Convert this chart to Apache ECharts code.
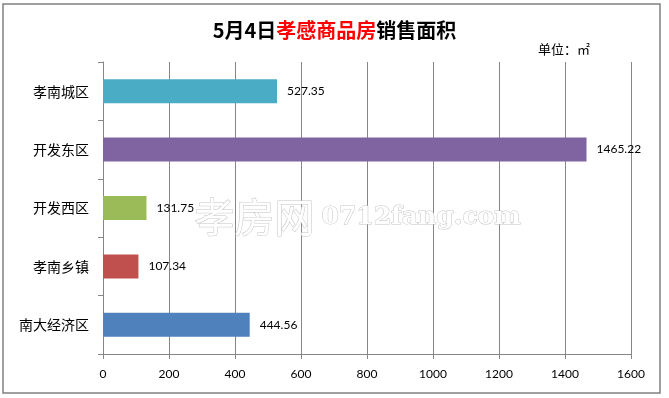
<!DOCTYPE html>
<html>
<head>
<meta charset="utf-8">
<script src="https://cdn.jsdelivr.net/npm/echarts@6/dist/echarts.min.js"></script>
<style>
    html, body {margin: 0; padding: 0; background: #fff;}
    #chart {width: 669px; height: 398px;}
</style>
</head>
<body>
<div id="chart"></div>
<script>
var categories = ['孝南城区', '开发东区', '开发西区', '孝南乡镇', '南大经济区'];
var areaValues = [527.35, 1465.22, 131.75, 107.34, 444.56];
var barColors = ['#4BACC6', '#8064A2', '#9BBB59', '#C0504D', '#4F81BD'];
var xTicks = [0, 200, 400, 600, 800, 1000, 1200, 1400, 1600];

var cjk = '"Noto Sans CJK SC", sans-serif';
var num = 'Lato, "Noto Sans", sans-serif';

var seriesData = [];
for (var i = 0; i < areaValues.length; i++) {
    seriesData.push({value: areaValues[i], itemStyle: {color: barColors[i]}});
}

var myChart = echarts.init(document.getElementById('chart'));
myChart.setOption({
    animation: false,
    backgroundColor: '#fff',
    title: {
        text: '{b|5月4日}{r|孝感商品房}{b|销售面积}',
        left: 'center',
        top: 15,
        textStyle: {
            rich: {
                b: {fontFamily: cjk, fontSize: 20, fontWeight: 'bold', color: '#000'},
                r: {fontFamily: cjk, fontSize: 20, fontWeight: 'bold', color: '#FF0000'}
            }
        }
    },
    grid: {
        left: 103,
        right: 38,
        top: 62,
        bottom: 44
    },
    xAxis: {
        type: 'value',
        min: xTicks[0],
        max: xTicks[xTicks.length - 1],
        interval: 200,
        axisLine: {show: true, lineStyle: {color: '#868686'}},
        axisTick: {show: true, length: 5, lineStyle: {color: '#868686'}},
        splitLine: {show: true, lineStyle: {color: '#868686'}},
        axisLabel: {
            color: '#000', fontFamily: num, fontSize: 12, margin: 14,
            formatter: function (v) { return String(v); }
        }
    },
    yAxis: {
        type: 'category',
        inverse: true,
        data: categories,
        axisLine: {show: true, lineStyle: {color: '#868686'}},
        axisTick: {show: true, length: 5, lineStyle: {color: '#868686'}},
        axisLabel: {color: '#000', fontFamily: cjk, fontSize: 14, margin: 14}
    },
    series: [{
        type: 'bar',
        data: seriesData,
        barWidth: 24,
        label: {
            show: true,
            position: 'right',
            distance: 10,
            color: '#000',
            fontFamily: num,
            fontSize: 12
        }
    }],
    graphic: [
        {
            type: 'rect',
            shape: {x: 3, y: 4, width: 657, height: 389},
            style: {fill: 'none', stroke: '#808080', lineWidth: 1.5},
            silent: true
        },
        {
            type: 'text',
            left: 538,
            top: 43,
            style: {text: '单位：㎡', font: '13px ' + cjk, fill: '#000'}
        },
        {
            type: 'text',
            left: 194,
            top: 196,
            z: 10,
            style: {
                text: '孝房网',
                font: '40px ' + cjk,
                fill: '#fff',
                stroke: '#c4c4c4',
                lineWidth: 1
            }
        },
        {
            type: 'text',
            left: 321,
            top: 204,
            z: 10,
            style: {
                text: '0712fang.com',
                font: 'bold 25px "DejaVu Serif", serif',
                fill: '#fff',
                stroke: '#c4c4c4',
                lineWidth: 1
            }
        }
    ]
});
</script>
</body>
</html>
